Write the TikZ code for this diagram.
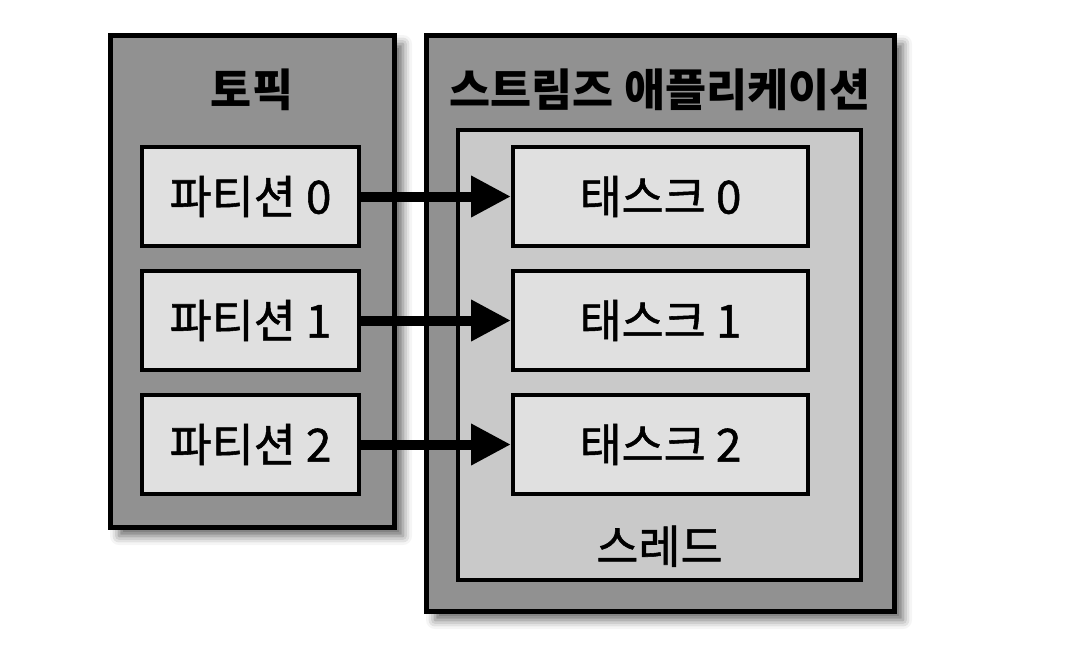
\documentclass[tikz,border=0pt]{standalone}
\usepackage{fontspec}
\setmainfont{Noto Sans CJK KR}
\newfontfamily\medfont{Noto Sans CJK KR}[FakeBold=1.2]
\usetikzlibrary{positioning,arrows.meta,shadows.blur}
\definecolor{figdark}{gray}{0.57}
\definecolor{figmid}{gray}{0.79}
\definecolor{figlight}{gray}{0.88}
\tikzset{
  outer/.style={draw=black,line width=0.5mm,fill=figdark,
                blur shadow={shadow xshift=0.9mm,shadow yshift=-0.9mm,
                             shadow blur radius=0.9mm,shadow opacity=60}},
  inbox/.style={draw=black,line width=0.4mm,fill=figlight,minimum height=9.9mm,
                inner sep=0pt,font=\medfont\fontsize{13}{15}\selectfont},
  ttl/.style={font=\fontsize{12.7}{15}\selectfont\bfseries,inner sep=0pt},
  lbl/.style={font=\medfont\fontsize{13}{15}\selectfont,inner sep=0pt},
  ln/.style={-{Triangle[length=4mm,width=3.9mm]},line width=1mm},
}

\begin{document}
\begin{tikzpicture}[x=0.1mm,y=-0.1mm,
  part/.style={inbox,minimum width=21.7mm},
  task/.style={inbox,minimum width=29.5mm},
  node distance=2.1mm]

\useasboundingbox (0,0) rectangle (1074,654);

% containers
\node[outer,minimum width=28.4mm,minimum height=49.2mm] (topic) at (252,281) {};
\node[ttl] (topicttl) at ([yshift=-5.7mm]topic.north) {토픽};

\node[outer,minimum width=46.8mm,minimum height=57.6mm] (app) at (660,323) {};
\node[ttl] (appttl) at ([yshift=-5.7mm]app.north) {스트림즈 애플리케이션};

\node[draw,line width=0.45mm,fill=figmid,minimum width=40.3mm,minimum height=45mm] (thr) at (659.5,355) {};
\node[lbl] (thrttl) at ([yshift=3.6mm]thr.south) {스레드};

% partitions
\node[part] (p0) at (250.5,196.5) {파티션 0};
\node[part,below=of p0] (p1) {파티션 1};
\node[part,below=of p1] (p2) {파티션 2};

% tasks
\node[task] (t0) at (660.5,196.5) {태스크 0};
\node[task,below=of t0] (t1) {태스크 1};
\node[task,below=of t1] (t2) {태스크 2};

\foreach \i in {0,1,2}
  \draw[ln] (p\i) -- (t\i);

\end{tikzpicture}
\end{document}
